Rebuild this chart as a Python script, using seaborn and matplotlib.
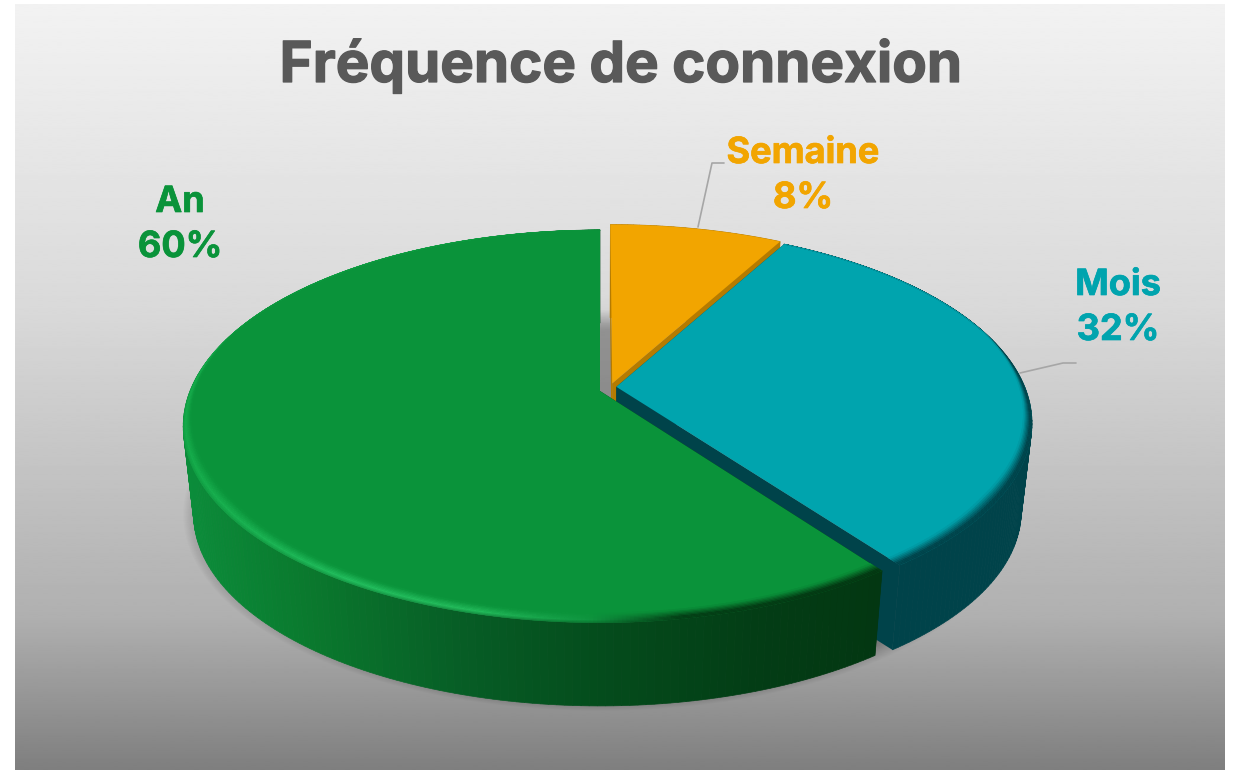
import numpy as np
import matplotlib
matplotlib.use("Agg")
import matplotlib.pyplot as plt
import matplotlib.patheffects as pe
import seaborn as sns

# ---- data ----
categories = ["Semaine", "Mois", "An"]
values = [8, 32, 60]
title = "Fréquence de connexion"
top_hex = ["#f2a500", "#00a4ae", "#0a933a"]
band_hex = ["#b57b00", "#00434a", "#03380f"]

sns.set_theme(style="white")
plt.rcParams["font.family"] = ["Inter", "Liberation Sans", "DejaVu Sans"]
palette = sns.color_palette(top_hex)

W, H = 1235, 771
fig = plt.figure(figsize=(W / 100, H / 100), dpi=100, facecolor="white")
ax = fig.add_axes([0, 0, 1, 1])

# background gradient
ys = np.linspace(0, 1, 400)
g = np.interp(ys, [0, 0.40, 0.80, 1.0], [0xf2, 0xd9, 0xb0, 0x7f]) / 255
ax.imshow(g[:, None], cmap="gray", vmin=0, vmax=1, extent=(15, 1225, 770, 4),
          aspect="auto", interpolation="bilinear", zorder=0)
ax.set_xlim(0, W)
ax.set_ylim(H, 0)
ax.axis("off")

# projection of the disc on screen
CX, CY, A, B, K = 600, 391, 410, 190, 0.18
DEPTH, SHRINK = 89, 0.975


def project(u, v, low=False, s=None, dy=None):
    u, v = np.asarray(u, float), np.asarray(v, float)
    w = 1 + K * v
    sc = s if s is not None else (SHRINK if low else 1.0)
    d = dy if dy is not None else (DEPTH if low else 0.0)
    return CX + sc * A * u / w, CY - sc * B * v / w + d


def mix(c1, c2, t):
    return tuple(np.array(c1) * (1 - t) + np.array(c2) * t)


def rgb(h):
    return matplotlib.colors.to_rgb(h)


# wedge angles from the values (clockwise from 12 o'clock)
total = sum(values)
edges = np.cumsum([0] + values) / total * 2 * np.pi
offsets = [(0.03, 0.04), (0.04, 0.022), (0.0, 0.0)]

# ground shadow
t = np.linspace(0, 2 * np.pi, 240)
for i in range(22):
    f = i / 21
    xs, yy = project(np.sin(t), np.cos(t), s=1.0 - 0.06 * f, dy=80 + 10 * f)
    ax.fill(xs, yy + 8 * (1 - f) * (np.cos(t) < 0), color="black", alpha=0.011, lw=0, zorder=1)
# the part of the shadow seen through the gap between the slices
for i in range(10):
    xs, yy = project(np.sin(t), np.cos(t), s=0.96, dy=62 + 3 * i)
    ax.fill(xs, yy, color="black", alpha=0.004, lw=0, zorder=1)


def wall_col(x, idx):
    if idx == 2:
        stops = ["#0b8c3a", "#0a7a2e", "#075f26", "#044c1c", "#033d15", "#033712"]
        xs_ = [185, 300, 450, 600, 760, 880]
        arr = np.array([rgb(c) for c in stops])
        return tuple(np.interp(x, xs_, arr[:, k]) for k in range(3))
    return rgb(band_hex[idx])


def rim_col(x, idx):
    if idx == 2:
        stops = ["#16ad4c", "#24c060", "#24bc5c", "#109540", "#033d15", "#033712"]
        xs_ = [185, 350, 480, 590, 680, 880]
        arr = np.array([rgb(c) for c in stops])
        return tuple(np.interp(x, xs_, arr[:, k]) for k in range(3))
    return rgb(band_hex[idx])


for idx in range(3):
    a0, a1 = edges[idx], edges[idx + 1]
    du, dv = offsets[idx]
    top = rgb(top_hex[idx])
    n = max(int((a1 - a0) * 60), 8)
    th = np.linspace(a0, a1, n + 1)
    z = 10 + idx * 10

    # cut faces
    for ang in (a0, a1):
        au, av = np.array([du, du + np.sin(ang)]), np.array([dv, dv + np.cos(ang)])
        x1, y1 = project(au, av)
        x2, y2 = project(au, av, low=True)
        ax.fill(np.r_[x1, x2[::-1]], np.r_[y1, y2[::-1]], color=band_hex[idx],
                lw=0, zorder=z + (0 if ang == a1 else -1))

    # outer wall, strip by strip
    for i in range(n):
        u = du + np.sin(th[i:i + 2])
        v = dv + np.cos(th[i:i + 2])
        x1, y1 = project(u, v)
        x2, y2 = project(u, v, low=True)
        c = wall_col(x1.mean(), idx)
        ax.fill(np.r_[x1, x2[::-1]], np.r_[y1, y2[::-1]], facecolor=c, edgecolor=c, lw=0.5, zorder=z + 1)

    # top face through the library's polygon fill
    fine = np.linspace(a0, a1, 200)
    x, y = project(np.r_[du, du + np.sin(fine)], np.r_[dv, dv + np.cos(fine)])
    ax.fill(x, y, color=palette[idx], lw=0, zorder=z + 2, label=categories[idx])

    # bevel
    if idx == 0:
        continue
    rings = np.linspace(1.0, 0.0, 9)
    tgrid = np.linspace(a0, a1, n * 2 + 1)
    for j in range(8):
        r_o, r_i = rings[j], rings[j + 1]
        for i in range(n * 2):
            tt = tgrid[i:i + 2]
            vm = np.cos(tt.mean())
            thick = 0.036 * np.clip((0.35 - vm) / 0.9, 0.05, 1.0)
            ro, ri = 1 - thick * (1 - r_o), 1 - thick * (1 - r_i)
            ux = du + np.r_[np.sin(tt) * ro, np.sin(tt[::-1]) * ri]
            vx = dv + np.r_[np.cos(tt) * ro, np.cos(tt[::-1]) * ri]
            xb, yb = project(ux, vx)
            xm = xb.mean()
            wc, rc = wall_col(xm, idx), rim_col(xm, idx)
            m = (r_o + r_i) / 2
            if m > 0.7:
                col = mix(rc, wc, (m - 0.7) / 0.3 * 0.5)
            else:
                col = mix(top, rc, m / 0.7)
            ax.fill(xb, yb, facecolor=col, edgecolor=col, lw=0.3, zorder=z + 3)

# leader lines
ax.plot([698, 712, 724], [227, 163, 163], color="#a6a6a6", lw=1.2, zorder=40)
ax.plot([1020, 1063, 1076], [373, 363, 363], color="#a6a6a6", lw=1.2, zorder=40)

# texts
ax.text(620.5, 82, title, ha="center", va="baseline", fontsize=40.7, fontweight="bold", color="#595959",
        zorder=50, path_effects=[pe.withStroke(linewidth=0.9, foreground="#595959")])
label_pos = [(803, 163, 208), (1118, 295, 340), (180, 212, 257)]
for (name, val, col, (lx, ly1, ly2)) in zip(categories, values, top_hex, label_pos):
    for txt, ly in ((name, ly1), (f"{val}%", ly2)):
        ax.text(lx, ly, txt, ha="center", va="baseline", fontsize=26, fontweight="bold", color=col,
                zorder=50, path_effects=[pe.withStroke(linewidth=0.5, foreground=col)])

fig.savefig("out.png", dpi=100, facecolor="white")
